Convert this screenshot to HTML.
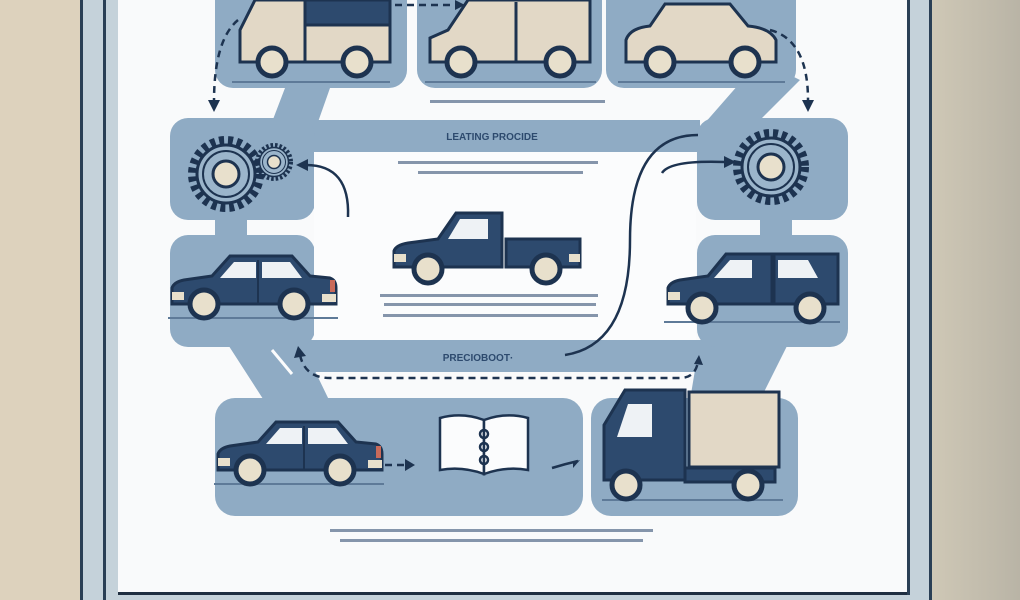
<!DOCTYPE html>
<html><head><meta charset="utf-8"><style>
html,body{margin:0;padding:0;width:1020px;height:600px;overflow:hidden;background:#e0d6c2}
svg{display:block}
text{font-family:"Liberation Sans",sans-serif}
</style></head><body>
<svg width="1020" height="600" viewBox="0 0 1020 600" xmlns="http://www.w3.org/2000/svg">
<defs>
<linearGradient id="rb" x1="0" x2="1"><stop offset="0" stop-color="#cfc8b6"/><stop offset="1" stop-color="#b9b4a6"/></linearGradient>
<g id="sedan">
 <path d="M0,52 L0,36 Q2,30 12,28 L40,24 L58,4 L120,4 L138,24 L158,26 Q164,28 164,36 L164,52 Z" fill="#2d4a6e" stroke="#1d3350" stroke-width="3"/>
 <path d="M62,10 L84,10 L84,26 L48,26 Z" fill="#eef2f5"/>
 <path d="M90,10 L118,10 L130,26 L90,26 Z" fill="#eef2f5"/>
 <line x1="86" y1="8" x2="86" y2="52" stroke="#1d3350" stroke-width="2"/>
 <rect x="0" y="40" width="12" height="8" fill="#e8e0cc"/>
 <rect x="158" y="28" width="5" height="12" fill="#c96a5a"/>
 <rect x="150" y="42" width="14" height="8" fill="#e8e0cc"/>
 <line x1="-4" y1="66" x2="166" y2="66" stroke="#5e7a98" stroke-width="2"/>
 <circle cx="32" cy="52" r="14" fill="#e8e0cc" stroke="#1d3350" stroke-width="5"/>
 <circle cx="122" cy="52" r="14" fill="#e8e0cc" stroke="#1d3350" stroke-width="5"/>
</g>
<g id="gear">
 <circle r="34" fill="none" stroke="#1d3350" stroke-width="8" stroke-dasharray="5 4"/>
 <circle r="29" fill="#9bb5cb" stroke="#1d3350" stroke-width="3"/>
 <circle r="23" fill="none" stroke="#1d3350" stroke-width="2"/>
 <circle r="13" fill="#e8e0cc" stroke="#1d3350" stroke-width="3"/>
</g>
</defs>
<rect x="0" y="0" width="80" height="600" fill="#ddd2bd"/>
<rect x="930" y="0" width="90" height="600" fill="url(#rb)"/>
<rect x="80" y="0" width="852" height="600" fill="#c5d2da"/>
<rect x="80" y="0" width="3" height="600" fill="#2a3f55"/>
<rect x="103" y="0" width="3" height="600" fill="#2a3f55"/>
<rect x="929" y="0" width="3" height="600" fill="#2a3f55"/>
<rect x="118" y="0" width="792" height="594" fill="#f9fafb"/>
<rect x="118" y="592" width="792" height="3" fill="#1f2e40"/>
<rect x="907" y="0" width="3" height="595" fill="#2a3f55"/>

<g fill="#8fabc4">
 <rect x="300" y="120" width="400" height="32"/>
 <rect x="300" y="340" width="410" height="32"/>
 <path d="M285,88 L330,88 L318,122 L272,122 Z"/>
 <path d="M690,140 L760,60 L800,80 L720,160 Z"/>
 <rect x="215" y="215" width="32" height="25"/>
 <rect x="760" y="215" width="32" height="25"/>
 <path d="M225,340 L300,340 L330,402 L265,402 Z"/>
 <path d="M700,340 L790,340 L760,400 L690,400 Z"/>
 <rect x="215" y="-20" width="192" height="108" rx="18"/>
 <rect x="417" y="-20" width="185" height="108" rx="18"/>
 <rect x="606" y="-20" width="190" height="108" rx="18"/>
 <rect x="170" y="118" width="145" height="102" rx="18"/>
 <rect x="697" y="118" width="151" height="102" rx="18"/>
 <rect x="170" y="235" width="145" height="112" rx="18"/>
 <rect x="697" y="235" width="151" height="112" rx="18"/>
 <rect x="215" y="398" width="368" height="118" rx="20"/>
 <rect x="591" y="398" width="207" height="118" rx="20"/>
</g>
<rect x="314" y="152" width="382" height="188" fill="#fbfcfd"/>
<line x1="272" y1="350" x2="292" y2="374" stroke="#fbfcfd" stroke-width="3"/>

<g stroke="#1d3350" stroke-width="3">
 <path d="M240,62 L240,30 L255,0 L390,0 L390,62 Z" fill="#e2d8c6"/>
 <rect x="305" y="0" width="85" height="25" fill="#2d4a6e"/>
 <line x1="305" y1="0" x2="305" y2="62"/>
 <line x1="232" y1="82" x2="390" y2="82" stroke="#5e7a98" stroke-width="2"/>
 <circle cx="272" cy="62" r="14" fill="#e8e0cc" stroke-width="5"/>
 <circle cx="357" cy="62" r="14" fill="#e8e0cc" stroke-width="5"/>
 <path d="M430,62 L430,38 L448,30 L468,0 L590,0 L590,62 Z" fill="#e2d8c6"/>
 <line x1="516" y1="2" x2="516" y2="62"/>
 <line x1="425" y1="82" x2="596" y2="82" stroke="#5e7a98" stroke-width="2"/>
 <circle cx="461" cy="62" r="14" fill="#e8e0cc" stroke-width="5"/>
 <circle cx="560" cy="62" r="14" fill="#e8e0cc" stroke-width="5"/>
 <path d="M626,62 L626,40 Q630,28 650,26 L665,4 L730,4 L748,26 Q770,28 776,40 L776,62 Z" fill="#e2d8c6"/>
 <line x1="618" y1="82" x2="785" y2="82" stroke="#5e7a98" stroke-width="2"/>
 <circle cx="660" cy="62" r="14" fill="#e8e0cc" stroke-width="5"/>
 <circle cx="745" cy="62" r="14" fill="#e8e0cc" stroke-width="5"/>
</g>
<g fill="none" stroke="#1d3350" stroke-width="2.5" stroke-dasharray="7 5">
 <path d="M395,5 L455,5"/>
 <path d="M238,20 Q214,40 214,102"/>
 <path d="M770,30 Q808,40 808,100"/>
 <path d="M300,355 Q305,378 330,378 L680,378 Q695,378 698,362"/>
 <path d="M385,465 L405,465"/>
</g>
<g fill="#1d3350">
 <path d="M455,0 L465,5 L455,10 Z"/>
 <path d="M208,100 L214,112 L220,100 Z"/>
 <path d="M802,100 L808,112 L814,100 Z"/>
 <path d="M294,358 L298,346 L306,356 Z"/>
 <path d="M694,364 L699,355 L703,365 Z"/>
 <path d="M405,459 L415,465 L405,471 Z"/>
 <path d="M573,462 L580,460 L573,468 Z"/>
</g>
<g fill="none" stroke="#1d3350" stroke-width="2.5">
 <path d="M348,217 Q350,165 306,165"/>
 <path d="M662,173 Q670,160 725,162"/>
 <path d="M565,355 Q630,345 630,240 Q630,135 698,135"/>
 <path d="M552,468 Q565,464 578,461"/>
</g>
<g fill="#1d3350">
 <path d="M308,159 L296,165 L308,171 Z"/>
 <path d="M724,156 L736,162 L724,168 Z"/>
</g>
<use href="#gear" x="226" y="174"/>
<g transform="translate(274,162) scale(0.5)"><use href="#gear"/></g>
<use href="#gear" x="771" y="167"/>
<use href="#sedan" x="172" y="252"/>
<use href="#sedan" x="218" y="418"/>
<g transform="translate(668,252)">
 <path d="M0,52 L0,36 Q2,30 12,28 L40,24 L58,2 L104,2 L104,52 Z" fill="#2d4a6e" stroke="#1d3350" stroke-width="3"/>
 <rect x="106" y="2" width="64" height="50" fill="#2d4a6e" stroke="#1d3350" stroke-width="3"/>
 <path d="M62,8 L84,8 L84,26 L46,26 Z" fill="#eef2f5"/>
 <path d="M110,8 L140,8 L150,26 L110,26 Z" fill="#eef2f5"/>
 <rect x="0" y="40" width="12" height="8" fill="#e8e0cc"/>
 <line x1="-4" y1="70" x2="172" y2="70" stroke="#5e7a98" stroke-width="2"/>
 <circle cx="34" cy="56" r="14" fill="#e8e0cc" stroke="#1d3350" stroke-width="5"/>
 <circle cx="142" cy="56" r="14" fill="#e8e0cc" stroke="#1d3350" stroke-width="5"/>
</g>
<g transform="translate(394,211)">
 <path d="M0,56 L0,40 Q2,34 14,32 L44,28 L62,2 L108,2 L108,56 Z" fill="#2d4a6e" stroke="#1d3350" stroke-width="3"/>
 <rect x="112" y="28" width="74" height="28" fill="#2d4a6e" stroke="#1d3350" stroke-width="3"/>
 <path d="M66,8 L94,8 L94,28 L54,28 Z" fill="#eef2f5"/>
 <rect x="0" y="43" width="12" height="8" fill="#e8e0cc"/>
 <rect x="175" y="43" width="11" height="8" fill="#e8e0cc"/>
 <circle cx="34" cy="58" r="14" fill="#e8e0cc" stroke="#1d3350" stroke-width="5"/>
 <circle cx="152" cy="58" r="14" fill="#e8e0cc" stroke="#1d3350" stroke-width="5"/>
</g>
<g stroke="#1d3350" stroke-width="2.5" fill="#fbfcfd">
 <path d="M440,470 L440,418 Q462,412 484,420 L484,474 Q462,466 440,470 Z"/>
 <path d="M484,420 Q506,412 528,418 L528,470 Q506,466 484,474 Z"/>
 <circle cx="484" cy="434" r="4" fill="none"/><circle cx="484" cy="447" r="4" fill="none"/><circle cx="484" cy="460" r="4" fill="none"/>
</g>
<g stroke="#1d3350" stroke-width="3">
 <path d="M604,480 L604,425 L625,390 L685,390 L685,480 Z" fill="#2d4a6e"/>
 <path d="M617,437 L628,404 L652,404 L652,437 Z" fill="#eef2f5" stroke="none"/>
 <rect x="689" y="392" width="90" height="75" fill="#e2d8c6"/>
 <rect x="685" y="468" width="90" height="14" fill="#2d4a6e"/>
 <line x1="602" y1="500" x2="783" y2="500" stroke="#5e7a98" stroke-width="2"/>
 <circle cx="626" cy="485" r="14" fill="#e8e0cc" stroke-width="5"/>
 <circle cx="748" cy="485" r="14" fill="#e8e0cc" stroke-width="5"/>
</g>
<text x="492" y="140" font-size="10" font-weight="bold" fill="#2d4a6e" text-anchor="middle">LEATING PROCIDE</text>
<text x="478" y="361" font-size="10" font-weight="bold" fill="#2d4a6e" text-anchor="middle">PRECIOBOOT·</text>
<g fill="#8595ab">
 <rect x="430" y="100" width="175" height="3"/>
 <rect x="398" y="161" width="200" height="3"/>
 <rect x="418" y="171" width="165" height="3"/>
 <rect x="380" y="294" width="218" height="3"/>
 <rect x="384" y="303" width="212" height="3"/>
 <rect x="383" y="314" width="215" height="3"/>
 <rect x="330" y="529" width="323" height="3"/>
 <rect x="340" y="539" width="303" height="3"/>
</g>
</svg>
</body></html>
